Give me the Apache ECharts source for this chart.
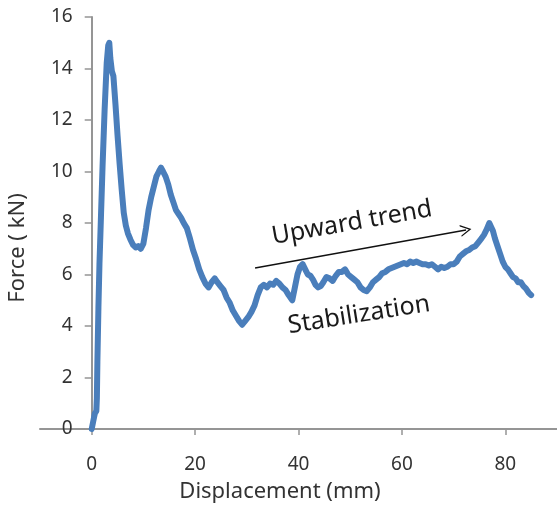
<!DOCTYPE html>
<html>
<head>
<meta charset="utf-8">
<script src="https://cdn.jsdelivr.net/npm/echarts@6/dist/echarts.min.js"></script>
<style>
  html, body { margin: 0; padding: 0; background: #fff; }
  #chart { width: 557px; height: 506px; }
</style>
</head>
<body>
<div id="chart"></div>
<script>
'use strict';

// displacement (mm) and force (kN)
var displacement = [
  0, 0.3, 0.6, 0.9, 1.0, 1.1, 1.3, 1.5, 1.8, 2.1, 2.5, 2.9, 3.2, 3.4, 3.6, 3.9, 4.2, 4.6, 5.0, 5.4,
  5.8, 6.2, 6.6, 7.0, 7.5, 8.0, 8.5, 9.0, 9.5, 10.0, 10.5, 11.0, 11.5, 12.0, 12.5, 13.0, 13.4, 13.8, 14.3, 14.8,
  15.3, 15.8, 16.3, 16.8, 17.3, 17.8, 18.4, 19.0, 19.6, 20.2, 20.8, 21.4, 22.0, 22.6, 23.2, 23.8, 24.3, 24.9, 25.5, 26.1,
  26.7, 27.3, 27.9, 28.5, 29.1, 29.7, 30.3, 30.9, 31.5, 32.1, 32.7, 33.3, 33.9, 34.5, 35.1, 35.7, 36.3, 36.9, 37.5, 38.1,
  38.8, 39.3, 39.8, 40.3, 40.8, 41.3, 41.8, 42.3, 42.8, 43.3, 43.8, 44.3, 44.8, 45.4, 46.0, 46.6, 47.2, 47.8, 48.4, 49.0,
  49.6, 50.2, 50.8, 51.4, 52.0, 52.6, 53.2, 53.8, 54.4, 55.0, 55.6, 56.2, 56.8, 57.4, 58.0, 58.6, 59.2, 59.8, 60.4, 61.0,
  61.6, 62.2, 62.8, 63.4, 64.0, 64.6, 65.2, 65.8, 66.4, 67.0, 67.6, 68.2, 68.8, 69.4, 70.0, 70.6, 71.2, 71.8, 72.4, 73.0,
  73.6, 74.2, 74.8, 75.4, 75.9, 76.4, 76.9, 77.2, 77.6, 78.0, 78.5, 79.0, 79.5, 80.0, 80.5, 81.0, 81.5, 82.0, 82.5, 83.0,
  83.5, 84.0, 84.5, 85.0
];
var force = [
  0, 0.3, 0.6, 0.7, 1.2, 2.6, 4.7, 6.4, 8.3, 10.2, 12.4, 14.2, 14.9, 15.0, 14.4, 13.9, 13.7, 12.6, 11.4, 10.3,
  9.3, 8.4, 7.9, 7.6, 7.35, 7.15, 7.05, 7.1, 7.0, 7.2, 7.8, 8.5, 9.0, 9.4, 9.8, 10.0, 10.15, 10.0, 9.8, 9.5,
  9.1, 8.8, 8.5, 8.35, 8.2, 8.0, 7.8, 7.4, 6.95, 6.6, 6.2, 5.9, 5.65, 5.5, 5.7, 5.85, 5.7, 5.55, 5.4, 5.1,
  4.9, 4.6, 4.4, 4.2, 4.05, 4.2, 4.35, 4.55, 4.8, 5.2, 5.5, 5.6, 5.5, 5.65, 5.6, 5.75, 5.65, 5.5, 5.4, 5.2,
  5.0, 5.5, 6.0, 6.3, 6.4, 6.2, 6.0, 5.95, 5.8, 5.6, 5.5, 5.55, 5.7, 5.9, 5.85, 5.75, 5.95, 6.1, 6.1, 6.2,
  6.0, 5.9, 5.8, 5.7, 5.5, 5.4, 5.35, 5.5, 5.7, 5.8, 5.9, 6.05, 6.1, 6.2, 6.25, 6.3, 6.35, 6.4, 6.45, 6.4,
  6.5, 6.45, 6.5, 6.45, 6.4, 6.4, 6.35, 6.4, 6.3, 6.2, 6.3, 6.25, 6.3, 6.4, 6.4, 6.5, 6.7, 6.8, 6.9, 6.95,
  7.05, 7.1, 7.25, 7.4, 7.55, 7.75, 8.0, 7.95, 7.7, 7.4, 7.1, 6.8, 6.5, 6.3, 6.2, 6.05, 5.9, 5.85, 5.7, 5.7,
  5.55, 5.45, 5.3, 5.2
];

var xTicks = [0, 20, 40, 60, 80];
// arrow of the "Upward trend" note, in data units
var trendStart = [31.6, 6.25];
var trendEnd = [72.4, 7.73];

var font = '"Noto Sans", Lato, sans-serif';
var axisGray = '#959595';
var textColor = '#333';

var points = displacement.map(function (d, i) { return [d, force[i]]; });

var chart = echarts.init(document.getElementById('chart'));
chart.setOption({
  animation: false,
  grid: { left: 40, right: 0, top: 17, bottom: 77 },
  xAxis: {
    type: 'value',
    min: -10,
    max: 90,
    axisLine: { onZero: true, lineStyle: { color: axisGray, width: 2 } },
    axisTick: { customValues: xTicks, length: 6, lineStyle: { color: axisGray, width: 1.5 } },
    axisLabel: { customValues: xTicks, margin: 26, color: textColor, fontSize: 19, fontFamily: font },
    splitLine: { show: false }
  },
  yAxis: {
    type: 'value',
    min: 0,
    max: 16,
    interval: 2,
    // sits on x = 0 (x axis starts at -10)
    offset: -51.7,
    axisLine: { show: true, onZero: false, lineStyle: { color: axisGray, width: 2 } },
    axisTick: { show: true, length: 7, lineStyle: { color: axisGray, width: 1.5 } },
    axisLabel: { margin: 19, color: textColor, fontSize: 19, fontFamily: font },
    splitLine: { show: false }
  },
  series: [{
    type: 'line',
    data: points,
    showSymbol: false,
    smooth: false,
    lineStyle: { color: '#4a7ebb', width: 6, join: 'round', cap: 'round' },
    markLine: {
      silent: true,
      symbol: ['none', 'path://M0,0 L6,10 L4.6,10 L0,2.4 L-4.6,10 L-6,10 Z'],
      symbolSize: [12, 11],
      label: { show: false },
      lineStyle: { color: '#111', width: 1.4, type: 'solid' },
      data: [[{ coord: trendStart }, { coord: trendEnd }]]
    }
  }],
  graphic: [
    {
      type: 'text', x: 18, y: 248, rotation: Math.PI / 2,
      style: { text: 'Force ( kN)', fill: textColor, font: '22px ' + font, textAlign: 'center', textVerticalAlign: 'middle' }
    },
    {
      type: 'text', x: 280, y: 492,
      style: { text: 'Displacement (mm)', fill: textColor, font: '22px ' + font, textAlign: 'center', textVerticalAlign: 'middle' }
    },
    {
      type: 'text', x: 352, y: 223, rotation: 10 * Math.PI / 180,
      style: { text: 'Upward trend', fill: '#1a1a1a', font: '25px ' + font, textAlign: 'center', textVerticalAlign: 'middle' }
    },
    {
      type: 'text', x: 359, y: 315, rotation: 9 * Math.PI / 180,
      style: { text: 'Stabilization', fill: '#1a1a1a', font: '25px ' + font, textAlign: 'center', textVerticalAlign: 'middle' }
    }
  ]
});
</script>
</body>
</html>
